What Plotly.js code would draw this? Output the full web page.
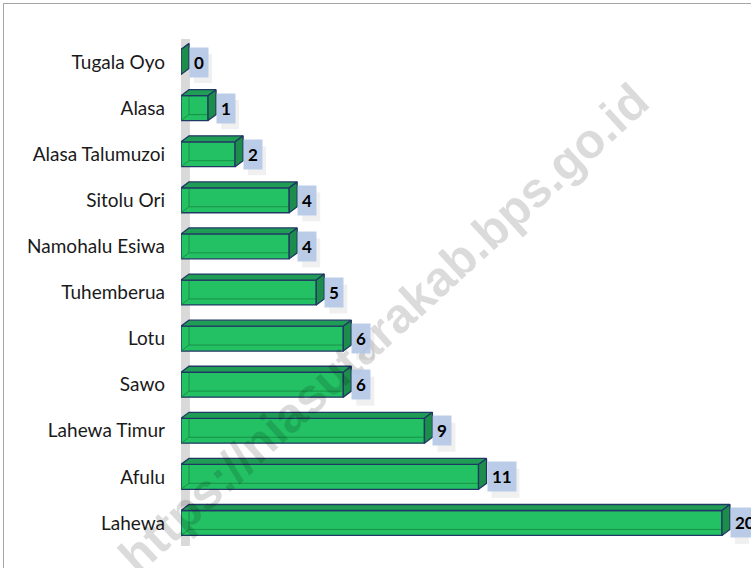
<!DOCTYPE html>
<html>
<head>
<meta charset="utf-8">
<script src="https://cdn.plot.ly/plotly-3.0.1.min.js"></script>
<style>
  html, body { margin: 0; padding: 0; background: #ffffff; }
  #wrap { position: relative; width: 751px; height: 568px; overflow: hidden; }
  #chart { position: absolute; left: 0; top: 0; width: 751px; height: 568px; }
  #frame { position: absolute; left: 3px; top: 3px; width: 760px; height: 600px;
           border-top: 1.5px solid #a6a6a6; border-left: 1.5px solid #a6a6a6; pointer-events: none; }
</style>
</head>
<body>
<div id="wrap">
  <div id="chart"></div>
  <div id="frame"></div>
</div>
<script>
// ---- data (top to bottom as shown) ----
const categories = ['Tugala Oyo', 'Alasa', 'Alasa Talumuzoi', 'Sitolu Ori', 'Namohalu Esiwa',
                    'Tuhemberua', 'Lotu', 'Sawo', 'Lahewa Timur', 'Afulu', 'Lahewa'];
const values = [0, 1, 2, 4, 4, 5, 6, 6, 9, 11, 20];
const watermarkText = 'https://niasutarakab.bps.go.id';

// ---- styling / geometry ----
const idx = categories.map((c, i) => i);
const halfW = 0.27;     // half bar thickness (category units)
const depthX = 0.296;   // 3D depth, x units
const depthY = 0.13;    // 3D depth, category units
const edge = '#203864';

// top faces & side faces built from the values
const topX = [], topY = [], sideX = [], sideY = [], backX = [], backY = [];
values.forEach((v, i) => {
  const yt = i - halfW, yb = i + halfW;
  topX.push(0, depthX, v + depthX, v, 0, null);
  topY.push(yt, yt - depthY, yt - depthY, yt, yt, null);
  sideX.push(v, v + depthX, v + depthX, v, v, null);
  sideY.push(yt, yt - depthY, yb - depthY, yb, yt, null);
  if (v > 0) {
    backX.push(0, depthX, v + depthX, null, depthX, depthX, null);
    backY.push(yb, yb - depthY, yb - depthY, null, yb - depthY, yt - depthY, null);
  }
});

const traces = [
  {
    type: 'bar', orientation: 'h', x: values, y: idx, width: halfW * 2,
    marker: { color: '#24c064', line: { color: edge, width: 1.3 } },
    hoverinfo: 'skip', showlegend: false
  },
  {
    type: 'scatter', mode: 'lines', x: backX, y: backY,
    line: { color: 'rgba(20,130,60,0.75)', width: 1 },
    hoverinfo: 'skip', showlegend: false, cliponaxis: false
  },
  {
    type: 'scatter', mode: 'lines', x: topX, y: topY, fill: 'toself',
    fillcolor: '#1f9d54', line: { color: edge, width: 1.3 },
    hoverinfo: 'skip', showlegend: false, cliponaxis: false
  },
  {
    type: 'scatter', mode: 'lines', x: sideX, y: sideY, fill: 'toself',
    fillcolor: '#1d8d4c', line: { color: edge, width: 1.3 },
    hoverinfo: 'skip', showlegend: false, cliponaxis: false
  }
];

// gray side wall
const shapes = [
  {
    type: 'path', xref: 'x', yref: 'y', layer: 'below',
    path: 'M -0.11 10.5 L -0.11 -0.5 L 0.33 -0.73 L 0.33 10.5 Z',
    fillcolor: '#d9d9d9', line: { width: 0 }
  }
];

// value labels with light blue boxes; soft shadows as pixel-sized shapes
const annotations = [];
annotations.push({
  xref: 'paper', yref: 'paper', x: 0.357, y: 0.43, text: watermarkText,
  textangle: -42.5, showarrow: false,
  font: { family: 'Liberation Sans, Arial, sans-serif', size: 49, color: 'rgba(0,0,0,0.14)', weight: 'bold' }
});
values.forEach((v, i) => {
  const boxW = 10 * String(v).length + 8;
  shapes.push({
    type: 'rect', xref: 'x', yref: 'y', layer: 'above',
    xsizemode: 'pixel', ysizemode: 'pixel', xanchor: v + depthX, yanchor: i,
    x0: 5, x1: 5 + boxW, y0: -21, y1: 8,
    fillcolor: 'rgba(0,0,0,0.06)', line: { width: 0 }
  });
  annotations.push({
    x: v + depthX, y: i, xanchor: 'left', yanchor: 'middle', xshift: 0,
    text: '<b>' + v + '</b>', showarrow: false,
    font: { family: 'Lato, sans-serif', size: 17, color: '#000000' },
    bgcolor: 'rgba(180,198,231,0.9)', borderpad: 4
  });
});

const layout = {
  width: 751, height: 568,
  margin: { l: 181, r: 2, t: 39, b: 22 },
  paper_bgcolor: '#ffffff', plot_bgcolor: 'rgba(0,0,0,0)',
  showlegend: false,
  xaxis: { range: [0, 21], showgrid: false, zeroline: false, showticklabels: false, showline: false, fixedrange: true },
  yaxis: {
    range: [10.5, -0.5], tickvals: idx, ticktext: categories,
    showgrid: false, zeroline: false, showline: false, ticks: '',
    ticklabelstandoff: 15,
    tickfont: { family: 'Lato, sans-serif', size: 19, color: '#1a1a1a' }, fixedrange: true
  },
  shapes: shapes,
  annotations: annotations
};

Plotly.newPlot('chart', traces, layout, { displayModeBar: false, staticPlot: true });
</script>
</body>
</html>
